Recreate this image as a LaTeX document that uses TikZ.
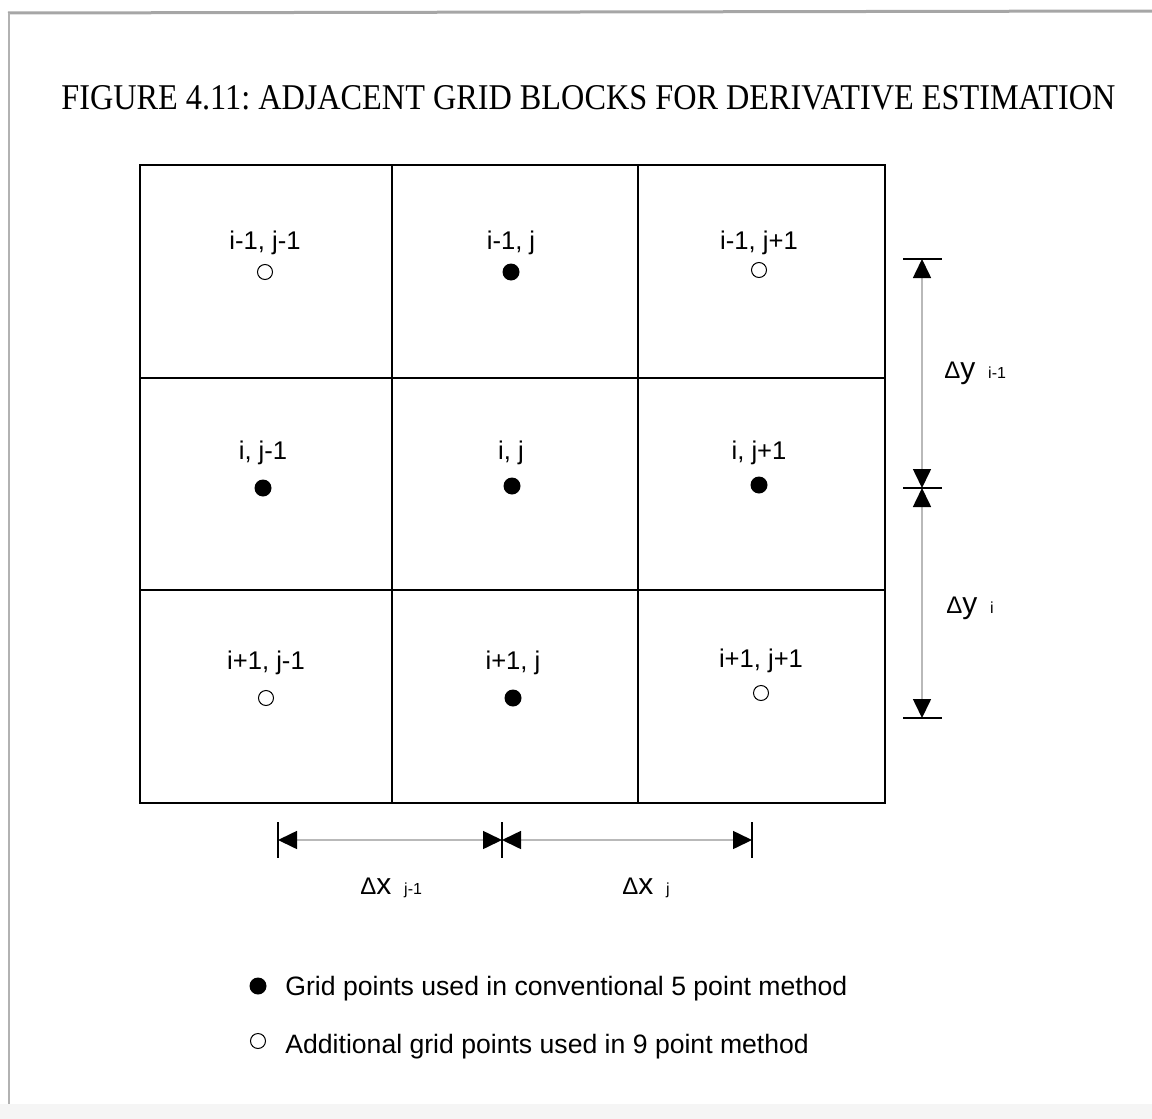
\documentclass[tikz,border=0pt]{standalone}
\usepackage{fontspec}
\usepackage{graphicx}
\setmainfont{Liberation Serif}
\setsansfont{Liberation Sans}
\usetikzlibrary{positioning,arrows.meta,calc}
\frenchspacing

\begin{document}
\begin{tikzpicture}[x=0.5pt,y=-0.5pt,
    every node/.style={inner sep=0pt,font=\sffamily\fontsize{12.8}{14}\selectfont},
    cell/.style={anchor=base},
    solidpt/.style={circle,fill=black,minimum size=8.5pt},
    openpt/.style={circle,draw=black,line width=0.5pt,minimum size=7.5pt},
    dimline/.style={draw=gray!55,line width=0.8pt,
      {Triangle[length=9.5pt,width=9pt,color=black]}-{Triangle[length=9.5pt,width=9pt,color=black]}},
    tickline/.style={line width=0.8pt},
    dimlabel/.style={anchor=base west}]
  \useasboundingbox (0,0) rectangle (1152,1119);
  % scanned page frame
  \fill[gray!8] (0,1104) rectangle (1152,1119);
  \draw[gray!70,line width=1.5pt] (8,13) -- (1152,11);
  \draw[gray!60,line width=1pt] (9,13) -- (9,1104);

  \node[anchor=base west,font=\rmfamily] (title) at (61,110)
    {\resizebox{527pt}{12pt}{FIGURE 4.11: ADJACENT GRID BLOCKS FOR DERIVATIVE ESTIMATION}};

  % grid blocks
  \coordinate (nw) at (140,165);
  \coordinate (se) at (885,803);
  \draw[line width=0.8pt] (nw) rectangle (se);
  \draw[line width=0.8pt] (392,165) -- (392,803) (638,165) -- (638,803);
  \draw[line width=0.8pt] (140,378) -- (885,378) (140,590) -- (885,590);

  % row i-1
  \node[cell] (c11) at (265,249) {i-1, j-1};
  \node[cell] (c12) at (511,249) {i-1, j};
  \node[cell] (c13) at (759,249) {i-1, j+1};
  \node[openpt]  (p11) at (265,272) {};
  \node[solidpt] (p12) at (511,272) {};
  \node[openpt]  (p13) at (759,270) {};
  % row i
  \node[cell] (c21) at (263,459) {i, j-1};
  \node[cell] (c22) at (511,459) {i, j};
  \node[cell] (c23) at (759,459) {i, j+1};
  \node[solidpt] (p21) at (263,488) {};
  \node[solidpt] (p22) at (512,486) {};
  \node[solidpt] (p23) at (759,485) {};
  % row i+1
  \node[cell] (c31) at (266,669) {i+1, j-1};
  \node[cell] (c32) at (513,669) {i+1, j};
  \node[cell] (c33) at (761,667) {i+1, j+1};
  \node[openpt]  (p31) at (266,698) {};
  \node[solidpt] (p32) at (513,698) {};
  \node[openpt]  (p33) at (761,693) {};

  % dimensions in y
  \coordinate (ya) at (922,259);
  \coordinate (yb) at (922,488);
  \coordinate (yc) at (922,718);
  \foreach \c in {ya,yb,yc}
    \draw[tickline] ($(\c)+(-19,0)$) -- ($(\c)+(20,0)$);
  \draw[dimline] (ya) -- (yb);
  \draw[dimline] (yb) -- (yc);
  \node[dimlabel] (dy1) at (944,378)
    {{\fontsize{12}{13}\selectfont Δ}{\fontsize{15}{16}\selectfont y}\enspace{\fontsize{8}{9}\selectfont i-1}};
  \node[dimlabel] (dy2) at (946,613)
    {{\fontsize{12}{13}\selectfont Δ}{\fontsize{15}{16}\selectfont y}\enspace{\fontsize{8}{9}\selectfont i}};

  % dimensions in x
  \coordinate (xa) at (278,840);
  \coordinate (xb) at (502,840);
  \coordinate (xc) at (752,840);
  \foreach \c in {xa,xb,xc}
    \draw[tickline] ($(\c)+(0,-18)$) -- ($(\c)+(0,18)$);
  \draw[dimline] (xa) -- (xb);
  \draw[dimline] (xb) -- (xc);
  \node[dimlabel] (dx1) at (360,894)
    {{\fontsize{12}{13}\selectfont Δ}{\fontsize{15}{16}\selectfont x}\enspace{\fontsize{8}{9}\selectfont j-1}};
  \node[dimlabel] (dx2) at (622,894)
    {{\fontsize{12}{13}\selectfont Δ}{\fontsize{15}{16}\selectfont x}\enspace{\fontsize{8}{9}\selectfont j}};

  % legend
  \node[solidpt] (key1) at (258,986) {};
  \node[anchor=base west,font=\sffamily\fontsize{13.3}{15}\selectfont] (txt1) at (285,995)
    {Grid points used in conventional 5 point method};
  \node[openpt] (key2) at (258,1041) {};
  \node[anchor=base west,font=\sffamily\fontsize{13.3}{15}\selectfont] (txt2) at (285,1053)
    {Additional grid points used in 9 point method};
\end{tikzpicture}
\end{document}
